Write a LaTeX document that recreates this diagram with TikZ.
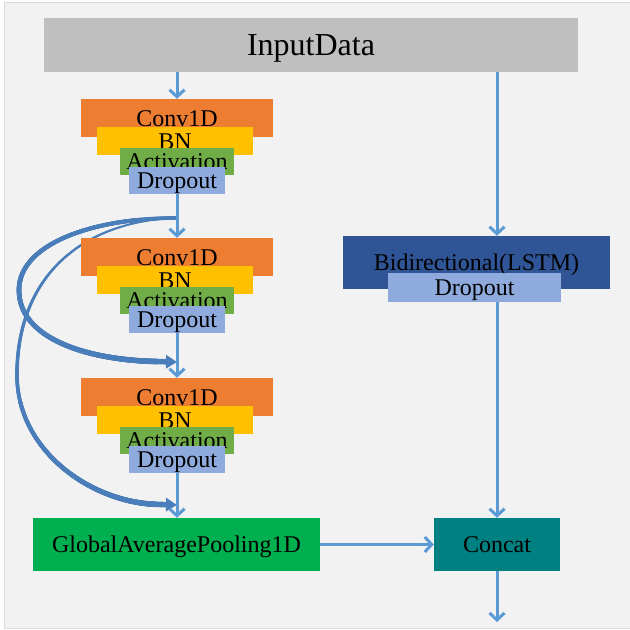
\documentclass[tikz,border=0pt]{standalone}
\usepackage{fontspec}
\setmainfont{Liberation Serif}
\usetikzlibrary{arrows.meta,decorations.markings}
\definecolor{bgc}{HTML}{F2F2F2}
\definecolor{framec}{HTML}{D6DCE4}
\definecolor{inputc}{HTML}{BFBFBF}
\definecolor{convc}{HTML}{ED7D31}
\definecolor{bnc}{HTML}{FFC000}
\definecolor{actc}{HTML}{70AD47}
\definecolor{dropc}{HTML}{8FAADC}
\definecolor{lstmc}{HTML}{2F5597}
\definecolor{gapc}{HTML}{00B050}
\definecolor{catc}{HTML}{008080}
\definecolor{arrc}{HTML}{5B9BD5}
\definecolor{curvec}{HTML}{4A7EBB}
\newcommand\layfont{\fontsize{24}{28}\selectfont}
\newcommand\bigfont{\fontsize{32}{36}\selectfont}
\begin{document}
\begin{tikzpicture}[x=1pt,y=-1pt,
  lay/.style={rectangle, inner sep=0pt, text height=16pt, text depth=0pt, font=\layfont, text=black},
  arr/.style={draw=arrc, line width=3pt, -{Straight Barb[length=7pt,width=15pt]}},
  tiparr/.style={draw=curvec, line width=5.6pt, -{Triangle[length=11pt,width=13pt]}},
  taper/.style 2 args={decoration={markings,
     mark=between positions 0 and 1 step 0.4pt with {%
       \pgfmathsetmacro\rr{#1+(#2-#1)*\pgfkeysvalueof{/pgf/decoration/mark info/distance from start}/\pgfdecoratedpathlength}%
       \fill[curvec] (0,0) circle[radius=\rr pt];}},
     decorate}]
\useasboundingbox (0,0) rectangle (630,630);
\fill[bgc] (4,2) rectangle (630,628);
\draw[framec, line width=0.8pt] (630,2) -- (4,2) -- (4,628) -- (630,628);

% skip connections
\coordinate (s1) at (177,218);
\coordinate (e1) at (177,362);
\coordinate (e2) at (177,505);
\coordinate (a1) at (156,361.5);
\coordinate (a2) at (156,504.3);
\path[taper={1.9}{2.8}] (s1) .. controls (90,218) and (19,245) .. (19,290) .. controls (19,340) and (90,360) .. (a1);
\path[taper={0.8}{2.8}] (s1) .. controls (80,221) and (17,278) .. (17,375) .. controls (17,450) and (90,502) .. (a2);
\draw[tiparr] (a1) -- (e1);
\draw[tiparr] (a2) -- (e2);

% nodes
\node[lay, fill=inputc, minimum width=534pt, minimum height=54pt, font=\bigfont, text height=21pt] (input) at (311,45) {InputData};

\foreach \i/\d in {1/0,2/139,3/279} {
  \node[lay, fill=convc, minimum width=192pt, minimum height=38pt] (conv\i) at (177,118+\d) {Conv1D};
  \node[lay, fill=bnc, minimum width=156pt, minimum height=28pt] (bn\i) at (175,141+\d) {BN};
  \node[lay, fill=actc, minimum width=114pt, minimum height=27pt] (act\i) at (177,161.5+\d) {Activation};
  \node[lay, fill=dropc, minimum width=96pt, minimum height=27pt] (drop\i) at (177,180.5+\d) {Dropout};
}

\node[lay, fill=lstmc, minimum width=267pt, minimum height=53pt] (lstm) at (476.5,262.5) {Bidirectional(LSTM)};
\node[lay, fill=dropc, minimum width=173pt, minimum height=29pt] (ldrop) at (474.5,287.5) {Dropout};
\node[lay, fill=gapc, minimum width=287pt, minimum height=53pt] (gap) at (176.5,544.5) {GlobalAveragePooling1D};
\node[lay, fill=catc, minimum width=126pt, minimum height=53pt] (cat) at (497,544.5) {Concat};
\coordinate (out) at (497,622);

% straight connectors
\draw[arr] (input.south -| conv1.north) -- (conv1.north);
\draw[arr] (drop1.south) -- (conv2.north);
\draw[arr] (drop2.south) -- (conv3.north);
\draw[arr] (drop3.south) -- (drop3.south |- gap.north);
\draw[arr] (input.south -| cat.north) -- (cat.north |- lstm.north);
\draw[arr] (ldrop.south -| cat.north) -- (cat.north);
\draw[arr] (gap.east) -- (cat.west);
\draw[arr] (cat.south) -- (out);
\end{tikzpicture}
\end{document}
